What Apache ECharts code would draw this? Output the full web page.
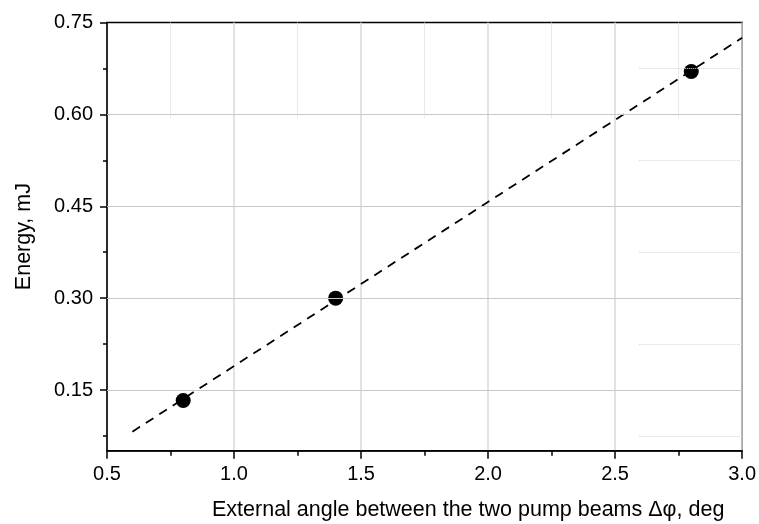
<!DOCTYPE html>
<html>
<head>
<meta charset="utf-8">
<script src="https://cdn.jsdelivr.net/npm/echarts@6/dist/echarts.min.js"></script>
<style>
html,body{margin:0;padding:0;background:#fff;}
#c{width:759px;height:524px;}
</style>
</head>
<body>
<div id="c"></div>
<script>
// ---- data ----
const pointX = [0.8, 1.4, 2.8];
const pointY = [0.133, 0.30, 0.67];
const fitX = [0.6, 3.0];
const fitY = [0.082, 0.725];
const yMajorTicks = [0.15, 0.30, 0.45, 0.60, 0.75];
const yMinorTicks = [0.075, 0.225, 0.375, 0.525, 0.675];
const yGridValues = [0.15, 0.30, 0.45, 0.60];
// faint dotted remnants in the original figure
const dotVX = [0.75, 1.25, 1.75, 2.25, 2.75];
const dotVYRange = [0.595, 0.75];
const dotHY = [0.075, 0.225, 0.375, 0.525, 0.675];
const dotHXRange = [2.595, 3.0];
const xTitle = 'External angle between the two pump beams \u0394\u03C6, deg';
const yTitle = 'Energy, mJ';

const FONT = '"Liberation Sans", Arial, sans-serif';
const chart = echarts.init(document.getElementById('c'), null, {renderer: 'canvas'});

const gridLines = yGridValues.map(v => ({yAxis: v, lineStyle: {color: '#c8c8c8', width: 1, type: 'solid'}}));
const dotV = dotVX.map(x => [{coord: [x, dotVYRange[1]]}, {coord: [x, dotVYRange[0]]}]);
const dotH = dotHY.map(y => [{coord: [dotHXRange[0], y]}, {coord: [dotHXRange[1], y]}]);

chart.setOption({
  animation: false,
  backgroundColor: '#fff',
  grid: {left: 107, right: 16, top: 22.5, bottom: 73.3, show: true, borderColor: '#000', borderWidth: 1.5, backgroundColor: 'transparent'},
  xAxis: {
    type: 'value', min: 0.5, max: 3.0, interval: 0.5,
    axisLine: {show: true, onZero: false, lineStyle: {color: '#000', width: 1.5}},
    axisTick: {show: true, inside: false, length: 8, lineStyle: {color: '#000', width: 1.5}},
    minorTick: {show: true, splitNumber: 2, length: 5, lineStyle: {color: '#000', width: 1.5}},
    axisLabel: {margin: 14, fontSize: 20, color: '#000', fontFamily: FONT, formatter: v => v.toFixed(1)},
    splitLine: {show: true, lineStyle: {color: '#d9d9d9', width: 1.5}},
    minorSplitLine: {show: false}
  },
  yAxis: [{
    type: 'value', min: 0.051, max: 0.75,
    name: yTitle, nameLocation: 'middle', nameGap: 72, nameRotate: 90,
    nameTextStyle: {fontSize: 21.5, color: '#000', fontFamily: FONT},
    axisLine: {show: true, onZero: false, lineStyle: {color: '#000', width: 1.5}},
    axisTick: {show: true, inside: false, length: 7, customValues: yMajorTicks, lineStyle: {color: '#000', width: 1.5}},
    axisLabel: {margin: 14, fontSize: 20, color: '#000', fontFamily: FONT, customValues: yMajorTicks, formatter: v => v.toFixed(2)},
    splitLine: {show: false}
  }, {
    type: 'value', min: 0.051, max: 0.75, position: 'left', offset: 0,
    axisLine: {show: false},
    axisTick: {show: true, inside: false, length: 4, customValues: yMinorTicks, lineStyle: {color: '#000', width: 1.5}},
    axisLabel: {show: false},
    splitLine: {show: false}
  }],
  graphic: [{
    type: 'text', left: 212, top: 499,
    style: {text: xTitle, fontSize: 21.5, fill: '#000', fontFamily: FONT}
  }],
  series: [{
    type: 'scatter', data: [], z: 1, silent: true,
    markLine: {
      silent: true, symbol: 'none', label: {show: false},
      data: gridLines
    }
  }, {
    type: 'scatter', data: [], z: 1, silent: true,
    markLine: {
      silent: true, symbol: 'none', label: {show: false},
      lineStyle: {color: '#d4d4d4', width: 1, type: [1, 1]},
      data: dotV.concat(dotH)
    }
  }, {
    type: 'line', z: 3, showSymbol: false, symbol: 'none',
    data: fitX.map((x, i) => [x, fitY[i]]),
    lineStyle: {color: '#000', width: 1.8, type: [9, 7]}
  }, {
    type: 'scatter', z: 4, symbolSize: 15,
    itemStyle: {color: '#000', opacity: 1, borderWidth: 0},
    data: pointX.map((x, i) => [x, pointY[i]])
  }]
});
</script>
</body>
</html>
